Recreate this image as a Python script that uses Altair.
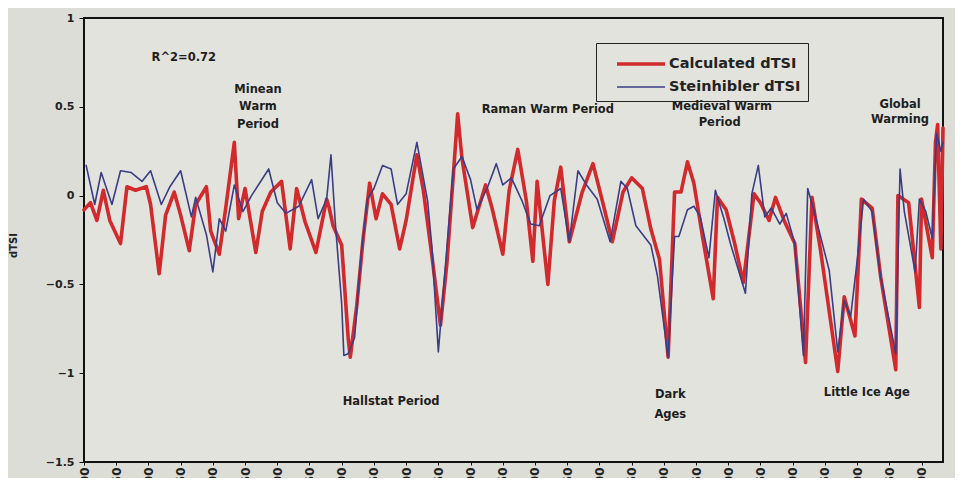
import altair as alt
import pandas as pd

# ---------------- data ----------------
calc_years = [-2000, -1970, -1940, -1910, -1880, -1830, -1800, -1760, -1710, -1690,
              -1650, -1620, -1580, -1550, -1510, -1480, -1430, -1410, -1370, -1340,
              -1300, -1280, -1250, -1200, -1170, -1130, -1080, -1040, -1010, -970,
              -920, -870, -860, -840, -800, -770, -760, -730, -700, -670,
              -640, -610, -570, -530, -500, -450, -420, -380, -340, -310,
              -280, -260, -240, -190, -130, -100, -50, -20, 20, 60,
              90, 110, 160, 190, 220, 260, 320, 370, 420, 460,
              510, 550, 600, 640, 680, 720, 750, 780, 810, 840,
              880, 930, 950, 990, 1030, 1070, 1120, 1150, 1190, 1220,
              1260, 1310, 1360, 1390, 1430, 1510, 1540, 1590, 1620, 1670,
              1710, 1780, 1790, 1840, 1890, 1900, 1950, 1965, 1975, 1990, 2000]
calc_vals = [-0.08, -0.04, -0.14, 0.03, -0.14, -0.27, 0.05, 0.03, 0.05, -0.05,
             -0.44, -0.11, 0.02, -0.11, -0.31, -0.05, 0.05, -0.20, -0.33, -0.07,
             0.30, -0.13, 0.04, -0.32, -0.09, 0.02, 0.08, -0.30, 0.04, -0.15,
             -0.32, -0.02, -0.06, -0.17, -0.28, -0.80, -0.91, -0.62, -0.24, 0.07,
             -0.13, 0.01, -0.05, -0.30, -0.14, 0.23, 0.03, -0.34, -0.73, -0.38,
             0.12, 0.46, 0.21, -0.18, 0.06, -0.07, -0.33, 0.03, 0.26, -0.03,
             -0.37, 0.08, -0.50, -0.03, 0.16, -0.26, 0.02, 0.18, -0.06, -0.26,
             0.02, 0.10, 0.04, -0.19, -0.36, -0.91, 0.02, 0.02, 0.19, 0.07,
             -0.23, -0.58, -0.01, -0.08, -0.27, -0.49, 0.01, -0.04, -0.14, -0.01,
             -0.14, -0.27, -0.94, -0.01, -0.31, -0.99, -0.57, -0.79, -0.02, -0.07,
             -0.46, -0.98, 0.00, -0.04, -0.63, -0.02, -0.35, 0.30, 0.40, -0.30, 0.38]

stein_years = [-1990, -1950, -1920, -1870, -1830, -1780, -1730, -1690, -1640, -1600,
               -1550, -1500, -1480, -1430, -1400, -1370, -1340, -1300, -1260, -1220,
               -1140, -1100, -1060, -1000, -940, -910, -870, -850, -830, -800,
               -790, -770, -740, -710, -680, -650, -610, -570, -540, -500,
               -450, -400, -380, -350, -320, -280, -240, -200, -170, -120,
               -80, -50, -10, 40, 80, 120, 170, 220, 260, 300,
               340, 390, 450, 500, 530, 570, 640, 670, 720, 750,
               770, 810, 840, 870, 910, 940, 980, 1010, 1080, 1110,
               1140, 1170, 1200, 1240, 1270, 1310, 1350, 1370, 1400, 1470,
               1510, 1540, 1570, 1600, 1630, 1670, 1710, 1780, 1800, 1820,
               1870, 1890, 1920, 1950, 1970, 1990, 2000]
stein_vals = [0.17, -0.05, 0.13, -0.05, 0.14, 0.13, 0.08, 0.14, -0.05, 0.05,
              0.14, -0.12, -0.01, -0.22, -0.43, -0.13, -0.20, 0.06, -0.09, 0.00,
              0.15, -0.04, -0.10, -0.06, 0.09, -0.13, -0.02, 0.23, -0.15, -0.61,
              -0.90, -0.89, -0.80, -0.34, -0.02, 0.04, 0.17, 0.15, -0.05, 0.01,
              0.30, -0.03, -0.29, -0.88, -0.44, 0.15, 0.22, 0.09, -0.08, 0.05,
              0.18, 0.06, 0.10, -0.03, -0.16, -0.17, 0.00, 0.04, -0.26, 0.14,
              0.06, -0.02, -0.26, 0.08, 0.04, -0.17, -0.28, -0.45, -0.91, -0.23,
              -0.23, -0.08, -0.06, -0.12, -0.35, 0.03, -0.13, -0.27, -0.55, 0.01,
              0.17, -0.12, -0.07, -0.16, -0.10, -0.27, -0.90, 0.04, -0.09, -0.42,
              -0.88, -0.59, -0.68, -0.37, -0.02, -0.09, -0.46, -0.89, 0.15, -0.09,
              -0.43, -0.02, -0.09, -0.24, 0.35, 0.25, 0.30]

series_names = ["Calculated dTSI", "Steinhibler dTSI"]
series_colors = ["#d22a2c", "#3b3d86"]
series_widths = [3.6, 1.6]

y_ticks = [1, 0.5, 0, -0.5, -1, -1.5]
x_ticks = [-2000, -1850, -1700, -1550, -1400, -1250, -1100, -950, -800, -650,
           -500, -350, -200, -50, 100, 250, 400, 550, 700, 850,
           1000, 1150, 1300, 1450, 1600, 1750, 1900]

note_text = ["R^2=0.72", "Minean", "Warm", "Period", "Raman Warm Period",
             "Medieval Warm", "Period", "Global", "Warming", "Hallstat Period",
             "Dark", "Ages", "Little Ice Age"]
note_year = [-1535, -1190, -1190, -1190, 160, 970, 960, 1800, 1800, -570,
             730, 730, 1645]
note_val = [0.775, 0.594, 0.499, 0.398, 0.482, 0.499, 0.409, 0.51, 0.426, -1.162,
            -1.123, -1.236, -1.111]

# ---------------- tables ----------------
df = pd.concat([
    pd.DataFrame({"year": calc_years, "dTSI": calc_vals, "series": series_names[0]}),
    pd.DataFrame({"year": stein_years, "dTSI": stein_vals, "series": series_names[1]}),
], ignore_index=True)
notes = pd.DataFrame({"text": note_text, "year": note_year, "dTSI": note_val})

FONT = "DejaVu Sans"

x_axis = alt.Axis(values=x_ticks, labelAngle=270, title=None, domain=False,
                  tickSize=3, labelFontSize=12, labelFontWeight="bold",
                  labelColor="#222222", tickColor="#111111", grid=False,
                  labelPadding=2, labelOverlap=False)
y_axis = alt.Axis(values=y_ticks, format="~g", title="dTSI", domain=False,
                  tickSize=5, labelFontSize=11, labelFontWeight="bold",
                  labelColor="#222222", tickColor="#111111", grid=False,
                  labelPadding=5, titleFontSize=10, titleFontWeight="bold",
                  titleColor="#222222", titleX=-66, titleY=227)
x_scale = alt.Scale(domain=[-2000, 2000], nice=False, zero=False)
y_scale = alt.Scale(domain=[-1.5, 1], nice=False, zero=False)

legend_props = dict(title=None, orient="none", legendX=512, legendY=25,
                    strokeColor="#222222", padding=7,
                    labelFontSize=14.5, labelFontWeight="bold",
                    labelFont=FONT, labelColor="#222222",
                    symbolType="M-2,0H2", symbolSize=576, symbolOffset=24,
                    labelOffset=14, rowPadding=2)

color_enc = alt.Color("series:N", scale=alt.Scale(domain=series_names, range=series_colors),
                      legend=alt.Legend(**legend_props))
width_enc = alt.StrokeWidth("series:N", scale=alt.Scale(domain=series_names, range=series_widths),
                            legend=alt.Legend(**legend_props))

base = alt.Chart(df).mark_line(strokeJoin="round", strokeCap="round").encode(
    x=alt.X("year:Q", scale=x_scale, axis=x_axis),
    y=alt.Y("dTSI:Q", scale=y_scale, axis=y_axis),
    color=color_enc, strokeWidth=width_enc)

calc_layer = base.transform_filter(alt.datum.series == series_names[0])
stein_layer = base.transform_filter(alt.datum.series == series_names[1])

texts = alt.Chart(notes).mark_text(font=FONT, fontWeight="bold", fontSize=11.5,
                                   color="#1e1e1e", align="center", baseline="middle").encode(
    x=alt.X("year:Q", scale=x_scale, axis=x_axis),
    y=alt.Y("dTSI:Q", scale=y_scale, axis=y_axis),
    text="text:N")

chart = alt.layer(calc_layer, stein_layer, texts).properties(
    width=859, height=444,
    padding={"left": 76, "top": 10, "right": 12, "bottom": 16},
    autosize=alt.AutoSizeParams(type="none"),
    background="#dcddd7",
).configure_view(stroke="#111111", strokeWidth=2, fill="#e2e3dd").configure_axis(
    labelFont=FONT, titleFont=FONT).configure_axisX(labelOverlap=False)

chart.save("out.html", embed_options={"renderer": "svg", "actions": False})
